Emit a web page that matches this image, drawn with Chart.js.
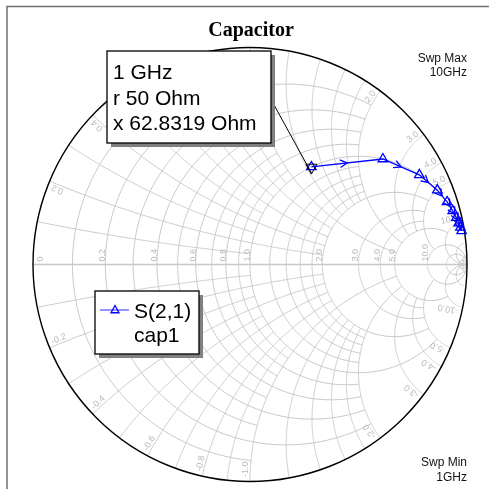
<!DOCTYPE html>
<html>
<head>
<meta charset="utf-8">
<script src="https://cdn.jsdelivr.net/npm/chart.js@4.4.1/dist/chart.umd.min.js"></script>
<style>
  html, body { margin: 0; padding: 0; background: #ffffff; }
  canvas { display: block; }
</style>
</head>
<body>
<canvas id="smith" width="489" height="489"></canvas>
<script>
// Sweep of S(2,1) for cap1, 1 GHz .. 10 GHz, reference impedance 50 Ohm
const Z0 = 50;
const frequencyGHz = [1, 2, 3, 4, 5, 6, 7, 8, 9, 10];
const resistanceOhm = [50, 50, 50, 50, 50, 50, 50, 50, 50, 50];
const reactanceOhm = [62.8319, 125.6637, 188.4956, 251.3274, 314.1593,
                      376.9911, 439.8230, 502.6548, 565.4867, 628.3185];

// Grid labels
const resistanceTicks = ['0', '0.2', '0.4', '0.6', '0.8', '1.0', '2.0', '3.0', '4.0', '5.0', '10.0'];
const reactanceTicks = ['0.2', '0.4', '0.6', '0.8', '1.0', '2.0', '3.0', '4.0', '5.0', '10.0'];

// Constant-resistance circles: [r, drawn while |x| <= limit]
const resistanceCircles = [
  [0.1, 1], [0.2, 2], [0.3, 1], [0.4, 2], [0.5, 1], [0.6, 2], [0.7, 1], [0.8, 2], [0.9, 1],
  [1.0, 5], [1.2, 2], [1.4, 2], [1.6, 2], [1.8, 2],
  [2.0, 5], [3.0, 5], [4.0, 5], [5.0, 10], [10, Infinity], [20, Infinity], [50, Infinity]
];
// Constant-reactance arcs: [|x|, drawn while r <= limit]
const reactanceArcs = [
  [0.1, 1], [0.2, 2], [0.3, 1], [0.4, 2], [0.5, 1], [0.6, 2], [0.7, 1], [0.8, 2], [0.9, 1],
  [1.0, 5], [1.2, 2], [1.4, 2], [1.6, 2], [1.8, 2],
  [2.0, 5], [3.0, 5], [4.0, 5], [5.0, 10], [10, Infinity], [20, Infinity], [50, Infinity]
];

// normalised impedance -> reflection coefficient
function gamma(r, x) {
  const d = (r + 1) * (r + 1) + x * x;
  return { x: (r * r - 1 + x * x) / d, y: (2 * x) / d };
}

const tracePoints = frequencyGHz.map((f, i) => gamma(resistanceOhm[i] / Z0, reactanceOhm[i] / Z0));

const GRID = '#c8c8c8';
const LABEL = '#b9b9b9';
const BLUE = '#0000ff';

function px(chart, g) {
  return [chart.scales.x.getPixelForValue(g.x), chart.scales.y.getPixelForValue(g.y)];
}

function polyline(ctx, pts) {
  ctx.beginPath();
  pts.forEach((p, i) => (i ? ctx.lineTo(p[0], p[1]) : ctx.moveTo(p[0], p[1])));
  ctx.stroke();
}

const smithGrid = {
  id: 'smithGrid',
  beforeDatasetsDraw(chart) {
    const ctx = chart.ctx;
    const sx = chart.scales.x, sy = chart.scales.y;
    const cx = sx.getPixelForValue(0), cy = sy.getPixelForValue(0);
    const R = sx.getPixelForValue(1) - cx;
    const N = 240;
    ctx.save();
    ctx.strokeStyle = GRID;
    ctx.lineWidth = 1;
    // constant resistance
    resistanceCircles.forEach(([r, lim]) => {
      const a = Math.atan(lim);
      const pts = [];
      for (let i = 0; i <= N; i++) {
        const t = -a + (2 * a * i) / N;
        pts.push(px(chart, gamma(r, Math.tan(t))));
      }
      polyline(ctx, pts);
    });
    // constant reactance
    reactanceArcs.forEach(([x, lim]) => {
      const a = Math.atan(lim);
      [x, -x].forEach(xx => {
        const pts = [];
        for (let i = 0; i <= N; i++) {
          const t = (a * i) / N;
          pts.push(px(chart, gamma(Math.tan(t), xx)));
        }
        polyline(ctx, pts);
      });
    });
    // real axis
    ctx.lineWidth = 1.5;
    ctx.beginPath();
    ctx.moveTo(cx - R, cy);
    ctx.lineTo(cx + R, cy);
    ctx.stroke();

    // resistance labels along the real axis
    ctx.fillStyle = LABEL;
    ctx.font = '9px "Liberation Sans", Arial, sans-serif';
    ctx.textBaseline = 'middle';
    resistanceTicks.forEach(lbl => {
      const r = parseFloat(lbl);
      const p = px(chart, gamma(r, 0));
      ctx.save();
      ctx.translate(p[0] + (r === 0 ? 8 : -2.5), p[1] - 3);
      ctx.rotate(-Math.PI / 2);
      ctx.textAlign = 'left';
      ctx.fillText(lbl, 0, 0);
      ctx.restore();
    });
    // reactance labels round the rim
    reactanceTicks.forEach(lbl => {
      const x = parseFloat(lbl);
      [x, -x].forEach(xx => {
        const g = gamma(0, xx);
        const pr = px(chart, { x: g.x * 0.982, y: g.y * 0.982 });
        const s = Math.sign(xx);
        const ang = Math.atan2(-Math.abs(g.y), g.x * s);
        ctx.save();
        ctx.translate(pr[0], pr[1]);
        ctx.rotate(ang);
        ctx.textAlign = s > 0 ? 'right' : 'left';
        ctx.textBaseline = 'bottom';
        ctx.fillText((xx < 0 ? '-' : '') + lbl, 0, 0);
        ctx.restore();
      });
    });
    // outer rim
    ctx.strokeStyle = '#000000';
    ctx.lineWidth = 1.4;
    ctx.beginPath();
    ctx.arc(cx, cy, R, 0, Math.PI * 2);
    ctx.stroke();
    ctx.restore();
  }
};

function triangle(ctx, x, y, s, down) {
  const h = s * 0.9;
  ctx.beginPath();
  if (!down) {
    ctx.moveTo(x, y - h * 0.62);
    ctx.lineTo(x + s / 2, y + h * 0.38);
    ctx.lineTo(x - s / 2, y + h * 0.38);
  } else {
    ctx.moveTo(x, y + h * 0.62);
    ctx.lineTo(x + s / 2, y - h * 0.38);
    ctx.lineTo(x - s / 2, y - h * 0.38);
  }
  ctx.closePath();
  ctx.stroke();
}

const annotations = {
  id: 'annotations',
  afterDatasetsDraw(chart) {
    const ctx = chart.ctx;
    const meta = chart.getDatasetMeta(0);
    const pts = meta.data.map(e => [e.x, e.y]);
    ctx.save();
    // direction arrows on the trace
    ctx.strokeStyle = BLUE;
    ctx.lineWidth = 1.3;
    for (let i = 0; i < pts.length - 1; i++) {
      const [x1, y1] = pts[i], [x2, y2] = pts[i + 1];
      const mx = (x1 + x2) / 2, my = (y1 + y2) / 2;
      const a = Math.atan2(y2 - y1, x2 - x1);
      const L = 8, w = 0.5;
      ctx.beginPath();
      ctx.moveTo(mx - L * Math.cos(a - w), my - L * Math.sin(a - w));
      ctx.lineTo(mx, my);
      ctx.lineTo(mx - L * Math.cos(a + w), my - L * Math.sin(a + w));
      ctx.stroke();
    }
    // marker on the first sweep point
    const [mx, my] = pts[0];
    ctx.strokeStyle = '#000000';
    ctx.lineWidth = 1;
    triangle(ctx, mx, my + 1, 11, true);
    ctx.beginPath();
    ctx.moveTo(273, 103);
    ctx.lineTo(mx, my + 6);
    ctx.stroke();
    ctx.restore();
  },
  afterDraw(chart) {
    const ctx = chart.ctx;
    ctx.save();
    // frame
    ctx.strokeStyle = '#707070';
    ctx.lineWidth = 1.5;
    ctx.strokeRect(7, 6.5, 500, 500);

    // title
    ctx.fillStyle = '#000000';
    ctx.font = 'bold 20px "Liberation Serif", "Times New Roman", serif';
    ctx.textAlign = 'center';
    ctx.textBaseline = 'alphabetic';
    ctx.fillText('Capacitor', 251, 36);

    // sweep range
    ctx.font = '12px "Liberation Sans", Arial, sans-serif';
    ctx.textAlign = 'right';
    ctx.fillStyle = '#111111';
    ctx.fillText('Swp Max', 467, 62);
    ctx.fillText(frequencyGHz[frequencyGHz.length - 1] + 'GHz', 467, 76);
    ctx.fillText('Swp Min', 467, 466);
    ctx.fillText(frequencyGHz[0] + 'GHz', 467, 481);

    // marker readout box
    const box = (x, y, w, h) => {
      ctx.fillStyle = '#808080';
      ctx.fillRect(x + 4, y + 4, w, h);
      ctx.fillStyle = '#ffffff';
      ctx.fillRect(x, y, w, h);
      ctx.strokeStyle = '#000000';
      ctx.lineWidth = 1.3;
      ctx.strokeRect(x, y, w, h);
    };
    box(107, 51, 164, 92);
    ctx.fillStyle = '#000000';
    ctx.font = '21px "Liberation Sans", Arial, sans-serif';
    ctx.textAlign = 'left';
    ctx.fillText(frequencyGHz[0] + ' GHz', 113, 79);
    ctx.fillText('r ' + resistanceOhm[0] + ' Ohm', 113, 105);
    ctx.fillText('x ' + reactanceOhm[0] + ' Ohm', 113, 130);

    // legend
    box(95, 291, 104, 63);
    ctx.strokeStyle = '#5a5aff';
    ctx.lineWidth = 1.3;
    ctx.beginPath();
    ctx.moveTo(100, 310);
    ctx.lineTo(129, 310);
    ctx.stroke();
    ctx.strokeStyle = BLUE;
    triangle(ctx, 115, 310, 8, false);
    ctx.fillStyle = '#000000';
    ctx.fillText('S(2,1)', 134, 318);
    ctx.fillText('cap1', 134, 342);
    ctx.restore();
  }
};

new Chart(document.getElementById('smith'), {
  type: 'scatter',
  data: {
    datasets: [{
      label: 'S(2,1) cap1',
      data: tracePoints,
      showLine: true,
      tension: 0,
      borderColor: BLUE,
      borderWidth: 1.3,
      pointStyle: 'triangle',
      pointRadius: 5.5,
      pointBorderColor: BLUE,
      pointBackgroundColor: 'rgba(0,0,0,0)',
      pointBorderWidth: 1.3
    }]
  },
  options: {
    responsive: false,
    animation: false,
    events: [],
    layout: { padding: { left: 33, right: 22, top: 48, bottom: 8 } },
    scales: {
      x: { type: 'linear', min: -1, max: 1, display: false },
      y: { type: 'linear', min: -1, max: 1, display: false }
    },
    plugins: { legend: { display: false }, tooltip: { enabled: false }, title: { display: false } }
  },
  plugins: [smithGrid, annotations]
});
</script>
</body>
</html>
